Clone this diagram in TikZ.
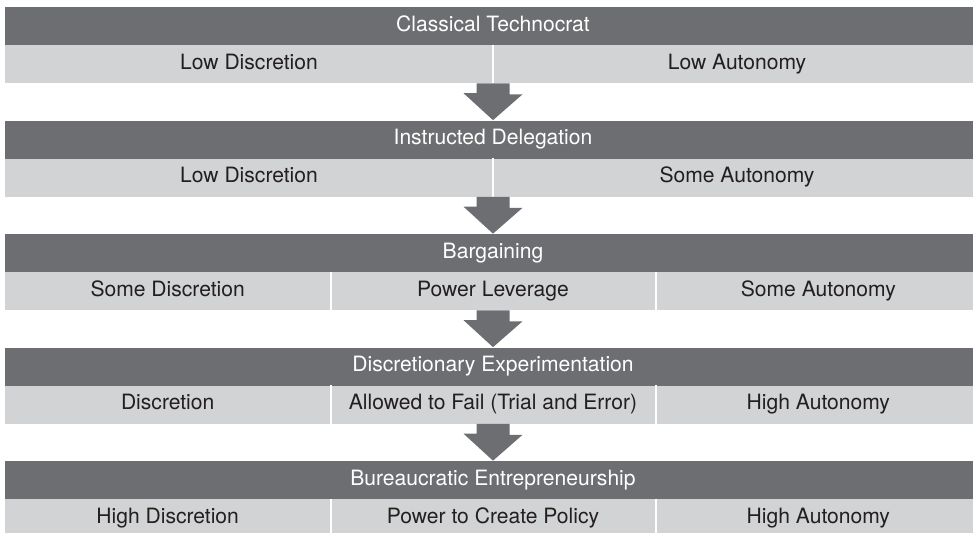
\documentclass[tikz,border=0pt]{standalone}
\usepackage{fontspec}
\setmainfont{TeX Gyre Heros}
\usetikzlibrary{calc}

\definecolor{bardark}{HTML}{6D6E71}
\definecolor{barlight}{HTML}{D1D3D4}
\definecolor{textdark}{HTML}{231F20}

\begin{document}
\begin{tikzpicture}[x=0.02cm,y=-0.02cm,
  bartext/.style={inner sep=0pt,minimum height=0.76cm,text height=8.8pt,text depth=2.6pt,font=\fontsize{12}{14}\selectfont},
  title/.style={bartext,fill=bardark,text=white,minimum width=19.52cm},
  halfcell/.style={bartext,fill=barlight,text=textdark,minimum width=9.76cm},
  thirdcell/.style={bartext,fill=barlight,text=textdark,minimum width=6.5067cm},
  sep/.style={white,line width=1.2pt},
  flow/.style={fill=bardark}]

\useasboundingbox (0,0) rectangle (973,532);

% block 1
\node[title] (t1) at (493,26) {Classical Technocrat};
\node[halfcell] (c11) at (249,64) {Low Discretion};
\node[halfcell] (c12) at (737,64) {Low Autonomy};
\draw[sep] (c11.north east)--(c11.south east);

% block 2
\node[title] (t2) at (493,139.5) {Instructed Delegation};
\node[halfcell] (c21) at (249,177.5) {Low Discretion};
\node[halfcell] (c22) at (737,177.5) {Some Autonomy};
\draw[sep] (c21.north east)--(c21.south east);

% block 3
\node[title] (t3) at (493,253) {Bargaining};
\node[thirdcell] (c31) at (167.67,291) {Some Discretion};
\node[thirdcell] (c32) at (493,291) {Power Leverage};
\node[thirdcell] (c33) at (818.33,291) {Some Autonomy};
\draw[sep] (c31.north east)--(c31.south east);
\draw[sep] (c32.north east)--(c32.south east);

% block 4
\node[title] (t4) at (493,366.5) {Discretionary Experimentation};
\node[thirdcell] (c41) at (167.67,404.5) {Discretion};
\node[thirdcell] (c42) at (493,404.5) {Allowed to Fail (Trial and Error)};
\node[thirdcell] (c43) at (818.33,404.5) {High Autonomy};
\draw[sep] (c41.north east)--(c41.south east);
\draw[sep] (c42.north east)--(c42.south east);

% block 5
\node[title] (t5) at (493,480) {Bureaucratic Entrepreneurship};
\node[thirdcell] (c51) at (167.67,518) {High Discretion};
\node[thirdcell] (c52) at (493,518) {Power to Create Policy};
\node[thirdcell] (c53) at (818.33,518) {High Autonomy};
\draw[sep] (c51.north east)--(c51.south east);
\draw[sep] (c52.north east)--(c52.south east);

% block arrows
\foreach \i/\j in {1/2,2/3,3/4,4/5}
  \fill[flow] ($(t\i.south |- c\i1.south)+(-16.5,0)$) -- ++(33,0) -- ++(0,11) -- ++(13,0)
    -- (t\j.north) -- ++(-29.5,-27) -- ++(13,0) -- cycle;

\end{tikzpicture}
\end{document}
